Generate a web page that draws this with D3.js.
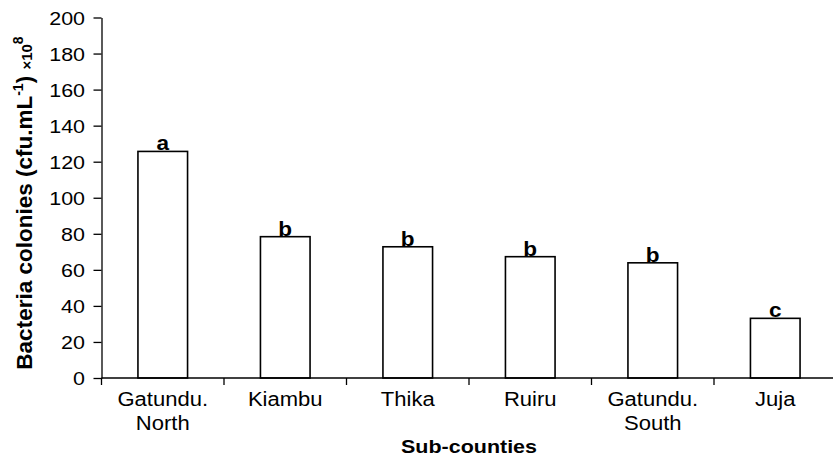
<!DOCTYPE html>
<html lang="en">
<head>
<meta charset="UTF-8">
<script src="https://d3js.org/d3.v7.min.js"></script>
<style>
  body { margin: 0; background: #fff; }
  text { font-family: "Liberation Sans", Arial, Helvetica, sans-serif; fill: #000; }
</style>
</head>
<body>
<svg id="mainsvg" width="834" height="468"></svg>
<script>
  // data
  const subCounties = ['Gatundu. North', 'Kiambu', 'Thika', 'Ruiru', 'Gatundu. South', 'Juja']
  const colonies = [125.7, 78.4, 72.8, 67.3, 63.9, 33.1]
  const groups = ['a', 'b', 'b', 'b', 'b', 'c']
  const yTicks = [0, 20, 40, 60, 80, 100, 120, 140, 160, 180, 200]

  const svg = d3.select('#mainsvg')
  const width = +svg.attr('width')
  const x0 = 101.5, y0 = 378, yTop = 17.5
  const stretch = 1.13  // the original figure is a bit wider than tall

  const xScale = d3.scaleBand()
    .domain(subCounties)
    .range([x0, x0 + 6 * 122.5])
    .paddingInner(0)
    .paddingOuter(0)

  const yScale = d3.scaleLinear()
    .domain([0, 200])
    .range([y0, yTop])

  const barW = xScale.bandwidth() * 0.405
  const mid = d => xScale(d) + xScale.bandwidth() / 2

  // bars
  svg.selectAll('rect.bar')
    .data(subCounties)
    .enter()
    .append('rect')
    .attr('class', 'bar')
    .attr('x', d => xScale(d) + (xScale.bandwidth() - barW) / 2)
    .attr('y', (d, i) => yScale(colonies[i]))
    .attr('width', barW)
    .attr('height', (d, i) => y0 - yScale(colonies[i]))
    .attr('fill', '#fff')
    .attr('stroke', '#000')
    .attr('stroke-width', 1.6)

  // letters
  svg.selectAll('text.grp')
    .data(subCounties)
    .enter()
    .append('text')
    .attr('class', 'grp')
    .attr('transform', (d, i) => `translate(${mid(d)}, ${yScale(colonies[i]) - 1}) scale(${stretch}, 1)`)
    .attr('text-anchor', 'middle')
    .attr('font-size', 20)
    .attr('font-weight', 'bold')
    .text((d, i) => groups[i])

  // y axis
  const yAxis = svg.append('g')
    .attr('transform', `translate(${x0}, 0)`)
    .call(d3.axisLeft(yScale).tickValues(yTicks).tickSize(8).tickSizeOuter(0))
  yAxis.select('.domain').attr('stroke', '#000').attr('stroke-width', 1.3)
  yAxis.selectAll('.tick line').attr('stroke', '#000').attr('stroke-width', 1.3)
  yAxis.selectAll('.tick text')
    .attr('font-size', 19)
    .attr('font-family', '"Liberation Sans", Arial, sans-serif')
    .attr('fill', '#000')
    .attr('x', -16.5 / stretch)
    .attr('dy', '0.36em')
    .attr('transform', `scale(${stretch}, 1)`)

  // x axis line and ticks at band edges
  svg.append('line')
    .attr('x1', x0).attr('x2', width - 1)
    .attr('y1', y0).attr('y2', y0)
    .attr('stroke', '#000').attr('stroke-width', 1.3)
  svg.selectAll('line.xtick')
    .data(subCounties)
    .enter()
    .append('line')
    .attr('class', 'xtick')
    .attr('x1', d => xScale(d)).attr('x2', d => xScale(d))
    .attr('y1', y0).attr('y2', y0 + 7)
    .attr('stroke', '#000').attr('stroke-width', 1.3)

  // category labels, one text per line
  const lines = subCounties.flatMap(d => d.split(' ').map((t, i) => ({ cat: d, t, i })))
  svg.selectAll('text.cat')
    .data(lines)
    .enter()
    .append('text')
    .attr('class', 'cat')
    .attr('transform', l => `translate(${mid(l.cat)}, ${406 + l.i * 23.5}) scale(${stretch}, 1)`)
    .attr('text-anchor', 'middle')
    .attr('font-size', 19.5)
    .text(l => l.t)

  // axis titles
  svg.append('text')
    .attr('transform', `translate(${xScale(subCounties[3])}, 453) scale(${stretch}, 1)`)
    .attr('text-anchor', 'middle')
    .attr('font-size', 19)
    .attr('font-weight', 'bold')
    .text('Sub-counties')

  const yt = svg.append('text')
    .attr('transform', `translate(32, 203) rotate(-90)`)
    .attr('text-anchor', 'middle')
    .attr('font-size', 22.5)
    .attr('font-weight', 'bold')
  yt.append('tspan').text('Bacteria colonies (cfu.mL')
  yt.append('tspan').attr('dy', -9).attr('font-size', 14).text('-1')
  yt.append('tspan').attr('dy', 9).text(') ')
  yt.append('tspan').attr('font-size', 15).text('\u00d710')
  yt.append('tspan').attr('dy', -9).attr('font-size', 14).text('8')
</script>
</body>
</html>
